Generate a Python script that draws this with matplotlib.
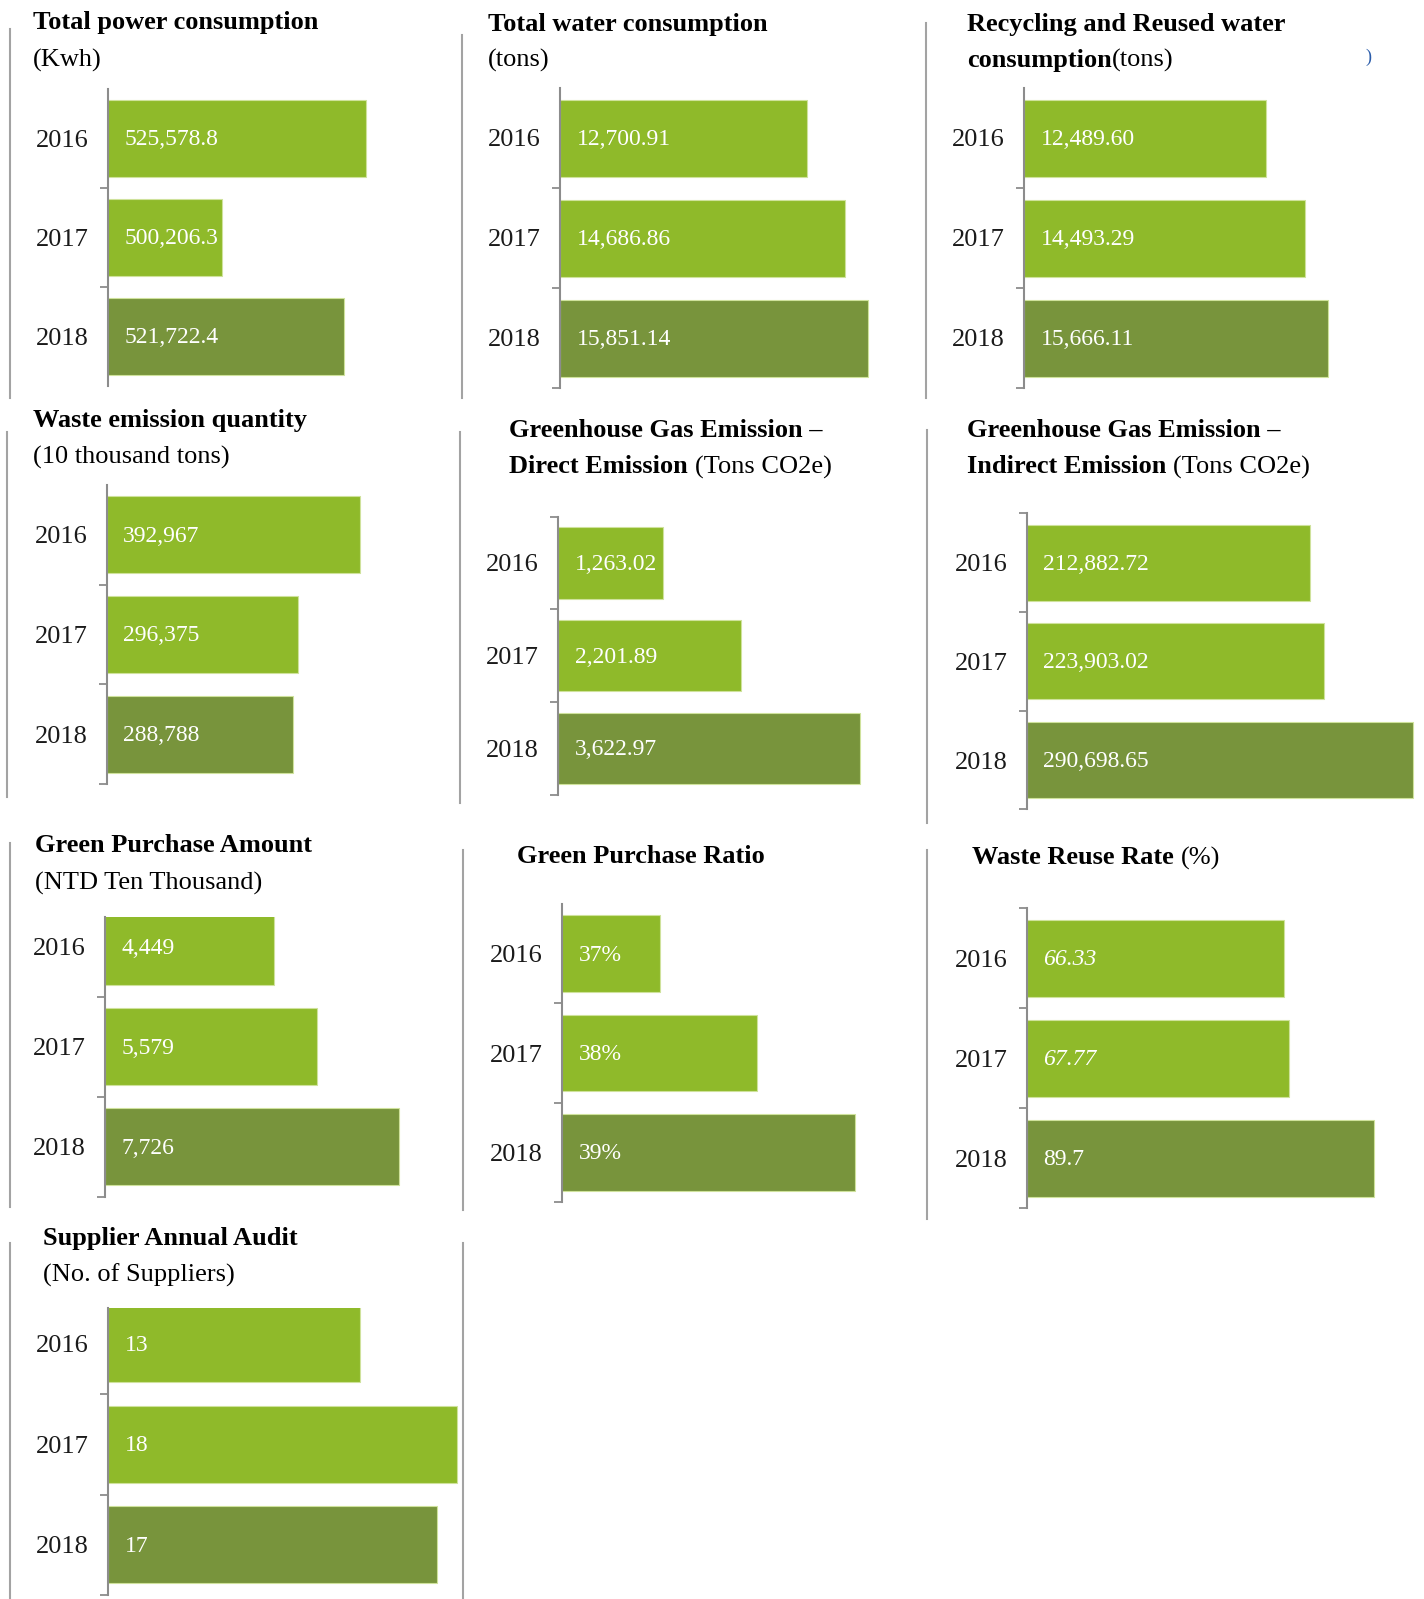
import matplotlib
matplotlib.use("Agg")
import matplotlib.pyplot as plt
from matplotlib.lines import Line2D

plt.rcParams['font.family'] = ['Liberation Serif', 'DejaVu Serif']

# ---------------- data ----------------
years = ['2016', '2017', '2018']

power = [525578.8, 500206.3, 521722.4]
water = [12700.91, 14686.86, 15851.14]
recycled_water = [12489.60, 14493.29, 15666.11]
waste = [392967, 296375, 288788]
ghg_direct = [1263.02, 2201.89, 3622.97]
ghg_indirect = [212882.72, 223903.02, 290698.65]
green_amount = [4449, 5579, 7726]
green_ratio = [37, 38, 39]
waste_reuse = [66.33, 67.77, 89.7]
supplier_audit = [13, 18, 17]

value_formats = ['{:,.1f}', '{:,.2f}', '{:,.2f}', '{:,}', '{:,.2f}',
                 '{:,.2f}', '{:,}', '{}%', '{}', '{}']

# each piece: (text, bold, gap in px before it)
titles = [
    [[("Total power consumption", True, 0)], [("(Kwh)", False, 0)]],
    [[("Total water consumption", True, 0)], [("(tons)", False, 0)]],
    [[("Recycling and Reused water", True, 0)], [("consumption", True, 0), ("(tons)", False, 0)]],
    [[("Waste emission quantity", True, 0)], [("(10 thousand tons)", False, 0)]],
    [[("Greenhouse Gas Emission \u2013", True, 0)], [("Direct Emission", True, 0), ("(Tons CO2e)", False, 7)]],
    [[("Greenhouse Gas Emission \u2013", True, 0)], [("Indirect Emission", True, 0), ("(Tons CO2e)", False, 7)]],
    [[("Green Purchase Amount", True, 0)], [("(NTD Ten Thousand)", False, 0)]],
    [[("Green Purchase Ratio", True, 0)]],
    [[("Waste Reuse Rate", True, 0), ("(%)", False, 7)]],
    [[("Supplier Annual Audit", True, 0)], [("(No. of Suppliers)", False, 0)]],
]

series = [power, water, recycled_water, waste, ghg_direct, ghg_indirect,
          green_amount, green_ratio, waste_reuse, supplier_audit]

# ---------------- layout (pixels in a 1424x1599 canvas) ----------------
W, H = 1424, 1599
AX_W = 390
# baseline x, y of band -0.5, band spacing, visible top limit, xlim, top tick, bottom tick
layout = [
    (108.0, 89.0, 99.0, -0.5, (480000, 548900), False, False),
    (560.0, 88.0, 100.0, -0.5, (0, 20080), False, True),
    (1024.0, 88.0, 100.0, -0.5, (0, 20100), False, True),
    (106.7, 485.0, 99.7, -0.5, (0, 604650), False, True),
    (558.3, 516.5, 92.8, -0.5, (0, 4688), True, True),
    (1026.7, 513.3, 98.7, -0.5, (0, 293230), True, True),
    (105.0, 896.7, 100.0, -0.3, (0, 10263), False, True),
    (562.3, 904.0, 99.4, -0.5, (36, 40.0), False, True),
    (1026.7, 908.3, 100.0, -0.5, (0, 100.7), True, True),
    (108.3, 1293.5, 100.5, -0.36, (0, 20.15), False, True),
]
title_pos = [
    (33.0, 29.3, 66.7), (488.3, 30.7, 66.7), (966.7, 30.7, 66.7),
    (33.3, 426.7, 463.3), (509.3, 436.7, 473.3), (966.7, 436.7, 473.3),
    (35.0, 852.3, 890.0), (517.3, 862.7, None), (971.7, 864.3, None),
    (42.7, 1245.0, 1281.7),
]
italic_values = [[], [], [], [], [], [], [], [], [0, 1], []]
separators = [(10, 29, 398), (462, 35, 398), (925.5, 23, 398),
              (7, 432, 797), (460, 432, 803), (927, 430, 823),
              (10, 843, 1207), (463, 850, 1210), (927.5, 850, 1219),
              (10, 1243, 1599), (463, 1243, 1599)]

LIGHT = '#8fba2a'
DARK = '#78943c'
EDGE = '#cfe29c'
AXIS = '#8c8c8c'

fig = plt.figure(figsize=(W / 100, H / 100), dpi=100)
fig.patch.set_facecolor('white')

for x, y0, y1 in separators:
    fig.add_artist(Line2D([x / W, x / W], [1 - y0 / H, 1 - y1 / H],
                          color='#a3a3a3', lw=1.5, transform=fig.transFigure))

for vals, fmt, lay, ital in zip(series, value_formats, layout, italic_values):
    x0, band_top, sp, ytop, xlim, ttick, btick = lay
    y_top_px = band_top + (ytop + 0.5) * sp
    y_bot_px = band_top + 3.0 * sp
    ax = fig.add_axes([x0 / W, 1 - y_bot_px / H, AX_W / W, (y_bot_px - y_top_px) / H])
    ax.patch.set_alpha(0)
    pos = list(range(len(years)))
    ax.barh(pos, vals, height=0.77, color=[LIGHT, LIGHT, DARK],
            edgecolor=EDGE, linewidth=0.8)
    ax.set_xlim(*xlim)
    ax.set_ylim(2.5, ytop)
    for i, v in enumerate(vals):
        ax.annotate(fmt.format(v), xy=(xlim[0], i), xytext=(12, -1),
                    textcoords='offset points', ha='left', va='center',
                    color='white', fontsize=17,
                    style='italic' if i in ital else 'normal')
    ax.set_xticks([])
    ax.set_yticks(pos)
    ax.set_yticklabels(years)
    bounds = [0.5, 1.5]
    if ttick:
        bounds = [-0.5] + bounds
    if btick:
        bounds = bounds + [2.5]
    ax.set_yticks(bounds, minor=True)
    ax.tick_params(axis='y', which='major', length=0, pad=14, labelsize=19,
                   labelcolor='#1a1a1a')
    ax.tick_params(axis='y', which='minor', length=5.8, width=1.3, color=AXIS)
    for s in ['top', 'right', 'bottom']:
        ax.spines[s].set_visible(False)
    ax.spines['left'].set_color(AXIS)
    ax.spines['left'].set_linewidth(1.5)

renderer = fig.canvas.get_renderer()
for lines, (tx, b1, b2) in zip(titles, title_pos):
    baselines = [b1, b2]
    for line, by in zip(lines, baselines):
        cur_x = tx
        for txt, bold, gap in line:
            cur_x += gap
            t = fig.text(cur_x / W, 1 - by / H, txt, fontsize=19,
                         fontweight='bold' if bold else 'normal',
                         ha='left', va='baseline', color='black')
            ext = t.get_window_extent(renderer)
            cur_x = ext.x1

# small stray mark at top-right of the source image
fig.text(1365 / W, 1 - 62 / H, ')', fontsize=13, color='#2a5caa',
         ha='left', va='baseline')

fig.savefig('out.png', dpi=100)
